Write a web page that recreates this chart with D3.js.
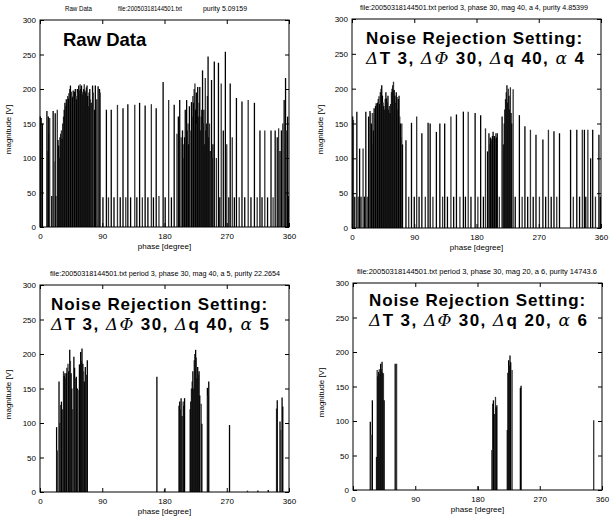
<!DOCTYPE html>
<html>
<head>
<meta charset="utf-8">
<script src="https://cdn.jsdelivr.net/npm/d3@7"></script>
<style>
  body { margin: 0; background: #fff; }
  svg { display: block; font-family: "Liberation Sans", Arial, sans-serif; }
</style>
</head>
<body>
<div id="chart"></div>
<script>
// phase [degree] / magnitude [V] pairs

// raw data
const rawPhase = [0.5, 2, 3.5, 10, 11, 12, 13, 14, 17, 19, 20, 22, 23, 25,
  26, 27, 28, 29, 30, 31, 32, 33, 34, 35, 36, 37, 38, 39, 40, 41, 42, 43, 44, 45,
  46, 47, 48, 49, 50, 51, 52, 53, 54, 55, 56, 57, 58, 59, 60, 61, 62, 63, 64, 65,
  66, 67, 68, 69, 70, 71, 72, 73, 74, 76, 77, 79, 80, 82, 84, 86, 87,
  91, 96, 99, 103, 107, 112, 116, 120, 124, 127, 131, 137, 140, 144, 148, 152, 156,
  161, 164, 168, 172, 178, 181, 186, 190, 194, 198, 200, 202, 204, 206, 207, 208, 209, 210,
  211, 212, 213, 214, 215, 216, 217, 219, 220, 221, 222, 223, 224, 225, 226, 227, 228, 229, 230, 231, 232, 233, 234, 235, 236, 237, 238, 239, 240,
  241, 242, 243, 244, 245, 246, 248, 249, 250, 252, 255, 258, 260, 262, 265, 268, 270, 273, 275, 278,
  281, 284, 288, 292, 296, 301, 305, 310, 314, 318, 321, 325, 329, 334, 337, 340,
  343, 345, 347, 349, 351, 353, 355, 356, 358, 359];
const rawMag = [160, 158, 150, 168, 110, 160, 135, 158, 45, 168, 95, 165, 45, 170,
  126, 118, 100, 130, 135, 140, 128, 150, 160, 170, 180, 175, 185, 178, 190, 186, 194, 200, 205, 196,
  190, 188, 198, 185, 196, 200, 190, 185, 200, 195, 205, 198, 207, 200, 205, 196, 192, 200, 207, 198,
  195, 202, 205, 190, 175, 195, 200, 185, 180, 205, 195, 170, 205, 185, 204, 200, 195,
  43, 170, 43, 170, 43, 177, 43, 172, 43, 178, 43, 177, 43, 180, 43, 176, 43,
  178, 43, 172, 45, 210, 43, 184, 43, 177, 135, 160, 184, 130, 140, 100, 120, 130, 170,
  150, 184, 140, 150, 120, 175, 140, 181, 160, 190, 180, 200, 208, 170, 195, 150, 203, 160, 180, 203, 140, 160, 170, 227, 150, 170, 120, 216, 140,
  150, 190, 247, 130, 150, 110, 213, 100, 120, 240, 100, 238, 43, 208, 140, 254, 120, 43, 208, 130,
  43, 187, 43, 182, 43, 184, 43, 180, 43, 140, 43, 140, 43, 140, 43, 140,
  130, 143, 110, 140, 150, 184, 216, 140, 160, 45];

// period 3, phase 30, mag 40, a 4
const a4Phase = [1, 2, 4, 7, 9, 11, 13, 16, 18, 20, 22, 24, 26,
  27, 28, 29, 30, 31, 32, 33, 34, 35, 36, 37, 38, 39, 40, 41, 42, 43, 44, 45, 46,
  47, 48, 49, 50, 51, 52, 53, 54, 55, 56, 57, 58, 59, 60, 61, 62, 63, 64, 65, 66,
  67, 68, 69, 70, 71, 72, 73,
  78, 82, 86, 90, 93.5, 97, 101, 106, 110, 113, 117, 122, 127, 131, 134, 138, 143,
  147, 151, 156, 161, 164, 168, 172, 178, 182, 186, 190, 193, 196, 198, 199, 200, 201, 202,
  203, 204, 205, 206, 207, 208, 209, 210, 213, 217, 219, 220, 221, 222, 223, 224, 225, 226, 227, 228, 229,
  230, 231, 233, 236, 242, 246, 250, 254, 258, 262, 266, 271, 276, 280, 284, 288,
  292, 296, 300, 316, 320, 325, 329, 333, 336, 338, 341, 345, 348, 352, 357, 359];
const a4Mag = [160, 155, 45, 167, 45, 114, 45, 114, 45, 167, 45, 160, 168,
  165, 150, 120, 165, 140, 172, 160, 175, 179, 170, 180, 185, 189, 178, 195, 200, 205, 190, 180, 175,
  170, 185, 195, 186, 180, 190, 170, 175, 165, 178, 195, 200, 205, 210, 198, 190, 180, 195, 188, 170,
  185, 190, 160, 150, 130, 150, 120,
  126, 45, 151, 45, 160, 45, 136, 45, 151, 150, 45, 138, 150, 45, 150, 45, 160,
  45, 163, 45, 167, 45, 167, 45, 165, 45, 162, 45, 143, 110, 136, 120, 130, 128, 125,
  132, 138, 130, 132, 128, 136, 130, 136, 45, 160, 120, 150, 170, 185, 195, 205, 180, 200, 190, 170, 202,
  165, 150, 199, 45, 162, 45, 146, 45, 141, 45, 134, 45, 127, 45, 141, 45,
  139, 45, 136, 141, 45, 141, 45, 141, 141, 45, 141, 100, 141, 45, 134, 45];

// period 3, phase 30, mag 40, a 5
const a5Phase = [24, 25, 27.5, 29, 30, 31, 32, 34, 35, 36, 37, 38, 39, 40.5, 41.5, 43, 44,
  45, 46, 47, 49, 50, 51, 52.5, 54, 55, 57, 58.8, 60, 60.7, 62, 63, 64, 65.5, 67, 68.4,
  169, 180, 201, 202, 203, 204, 205.5, 207, 208, 209, 217, 218, 219, 220, 221, 222,
  223, 224, 225, 226, 227, 228, 229, 230, 231, 233, 234, 242, 243, 244, 274,
  300, 315, 330, 342, 343, 347, 348, 350, 351];
const a5Mag = [94, 60, 160, 100, 126, 131, 120, 175, 168, 172, 165, 172, 180, 186, 175, 206, 190,
  172, 150, 120, 196, 180, 165, 167, 150, 148, 185, 203, 190, 208, 186, 175, 160, 181, 170, 191,
  167, 4, 125, 131, 120, 136, 110, 131, 125, 136, 120, 131, 150, 160, 175, 150,
  191, 200, 206, 195, 165, 181, 170, 175, 140, 128, 99, 151, 140, 160, 97,
  2, 2, 3, 121, 133, 102, 90, 137, 124];

// period 3, phase 30, mag 20, a 6
const a6Phase = [25, 26, 28, 34, 35, 36, 37, 38, 39, 40, 41, 42, 43, 44, 45, 61, 63,
  181, 201, 202, 203, 205, 206, 207, 208, 223, 224, 225, 226, 227, 228, 230, 242, 243, 348];
const a6Mag = [99, 80, 130, 48, 174, 165, 171, 175, 168, 183, 175, 186, 170, 169, 130, 183, 183,
  5, 58, 125, 130, 110, 135, 120, 123, 87, 170, 188, 180, 195, 185, 174, 148, 151, 101];

const xTicks = [0, 90, 180, 270, 360];
const yTicks = [0, 50, 100, 150, 200, 250, 300];
const fileName = 'file:20050318144501.txt';

const W = 615, H = 517;
const svg = d3.select('#chart').append('svg')
  .attr('width', W)
  .attr('height', H);

// draws one MATLAB-style axes box with stems
function drawPanel(p) {
  const x = d3.scaleLinear().domain([0, 360]).range([p.l, p.r]);
  const y = d3.scaleLinear().domain([0, 300]).range([p.b, p.t]);
  const g = svg.append('g');

  // stems
  g.append('g').selectAll('line')
    .data(d3.zip(p.phase, p.mag))
    .join('line')
      .attr('x1', d => x(d[0]))
      .attr('x2', d => x(d[0]))
      .attr('y1', y(0))
      .attr('y2', d => y(d[1]))
      .attr('stroke', (d, i) => i % 3 === 1 ? '#333' : '#000')
      .attr('stroke-width', 1.3);

  // box
  g.append('rect')
    .attr('x', p.l).attr('y', p.t)
    .attr('width', p.r - p.l).attr('height', p.b - p.t)
    .attr('fill', 'none').attr('stroke', '#000').attr('stroke-width', 1);

  const axStyle = sel => {
    sel.select('.domain').remove();
    sel.selectAll('.tick line').attr('stroke', '#000');
    sel.selectAll('.tick text')
      .attr('font-size', 8)
      .attr('font-family', '"Liberation Sans", Arial, sans-serif')
      .attr('fill', '#000');
  };

  g.append('g').attr('transform', `translate(0,${p.b})`)
    .call(d3.axisBottom(x).tickValues(xTicks).tickSizeInner(-4).tickPadding(6))
    .call(axStyle);
  g.append('g').attr('transform', `translate(0,${p.t})`)
    .call(d3.axisTop(x).tickValues(xTicks).tickSizeInner(-4).tickFormat(''))
    .call(axStyle);
  g.append('g').attr('transform', `translate(${p.l},0)`)
    .call(d3.axisLeft(y).tickValues(yTicks).tickSizeInner(-4).tickPadding(4))
    .call(axStyle);
  g.append('g').attr('transform', `translate(${p.r},0)`)
    .call(d3.axisRight(y).tickValues(yTicks).tickSizeInner(-4).tickFormat(''))
    .call(axStyle);

  // axis labels
  g.append('text')
    .attr('x', (p.l + p.r) / 2).attr('y', p.b + 22)
    .attr('text-anchor', 'middle').attr('font-size', 8)
    .text('phase [degree]');
  g.append('text')
    .attr('transform', `translate(${p.l - 29},${(p.t + p.b) / 2 + 6}) rotate(-90)`)
    .attr('text-anchor', 'middle').attr('font-size', 8)
    .text('magnitude [V]');

  // title
  p.title.forEach(t => {
    g.append('text')
      .attr('x', t.x).attr('y', p.t - 9)
      .attr('text-anchor', t.anchor || 'start')
      .attr('font-size', 7.5)
      .attr('textLength', t.w).attr('lengthAdjust', 'spacingAndGlyphs')
      .text(t.s);
  });

  // big annotation, one text element per line
  p.note.lines.forEach((line, li) => {
    const txt = g.append('text')
      .attr('x', p.note.x).attr('y', p.note.y + li * 20)
      .attr('font-size', p.note.size).attr('font-weight', 'bold')
      .attr('letter-spacing', p.note.spacing ? p.note.spacing[li] : null);
    line.forEach(part => {
      txt.append('tspan')
        .attr('font-style', part.it ? 'italic' : null)
        .attr('font-family', part.it ? '"DejaVu Serif", serif' : null)
        .attr('font-weight', part.it ? 'normal' : null)
        .text(part.s);
    });
  });
}

function settingNote(x, y, dq, a) {
  return { x: x, y: y, size: 17, spacing: [0.9, 1.4], lines: [
    [{ s: 'Noise Rejection Setting:' }],
    [
      { s: 'Δ', it: true }, { s: 'T 3, ' },
      { s: 'ΔΦ', it: true }, { s: ' 30, ' },
      { s: 'Δ', it: true }, { s: 'q ' + dq + ', ' },
      { s: 'α', it: true }, { s: ' ' + a }
    ]
  ] };
}

drawPanel({
  l: 40, t: 20, r: 289, b: 227, phase: rawPhase, mag: rawMag,
  title: [
    { x: 65, s: 'Raw Data', w: 27 },
    { x: 118, s: fileName, w: 64 },
    { x: 203, s: 'purity 5.09159', w: 44 }
  ],
  note: { x: 63, y: 46, size: 18.5, lines: [[{ s: 'Raw Data' }]] }
});

drawPanel({
  l: 352, t: 19, r: 601, b: 228, phase: a4Phase, mag: a4Mag,
  title: [{ x: 474, anchor: 'middle', w: 228,
    s: fileName + ' period 3, phase 30, mag 40, a 4, purity 4.85399' }],
  note: settingNote(366, 44, 40, 4)
});

drawPanel({
  l: 40, t: 285, r: 289, b: 492, phase: a5Phase, mag: a5Mag,
  title: [{ x: 165, anchor: 'middle', w: 230,
    s: fileName + ' period 3, phase 30, mag 40, a 5, purity 22.2654' }],
  note: settingNote(51, 310, 40, 5)
});

drawPanel({
  l: 353, t: 283, r: 602, b: 490, phase: a6Phase, mag: a6Mag,
  title: [{ x: 477, anchor: 'middle', w: 240,
    s: fileName + ' period 3, phase 30, mag 20, a 6, purity 14743.6' }],
  note: settingNote(369, 306, 20, 6)
});
</script>
</body>
</html>
